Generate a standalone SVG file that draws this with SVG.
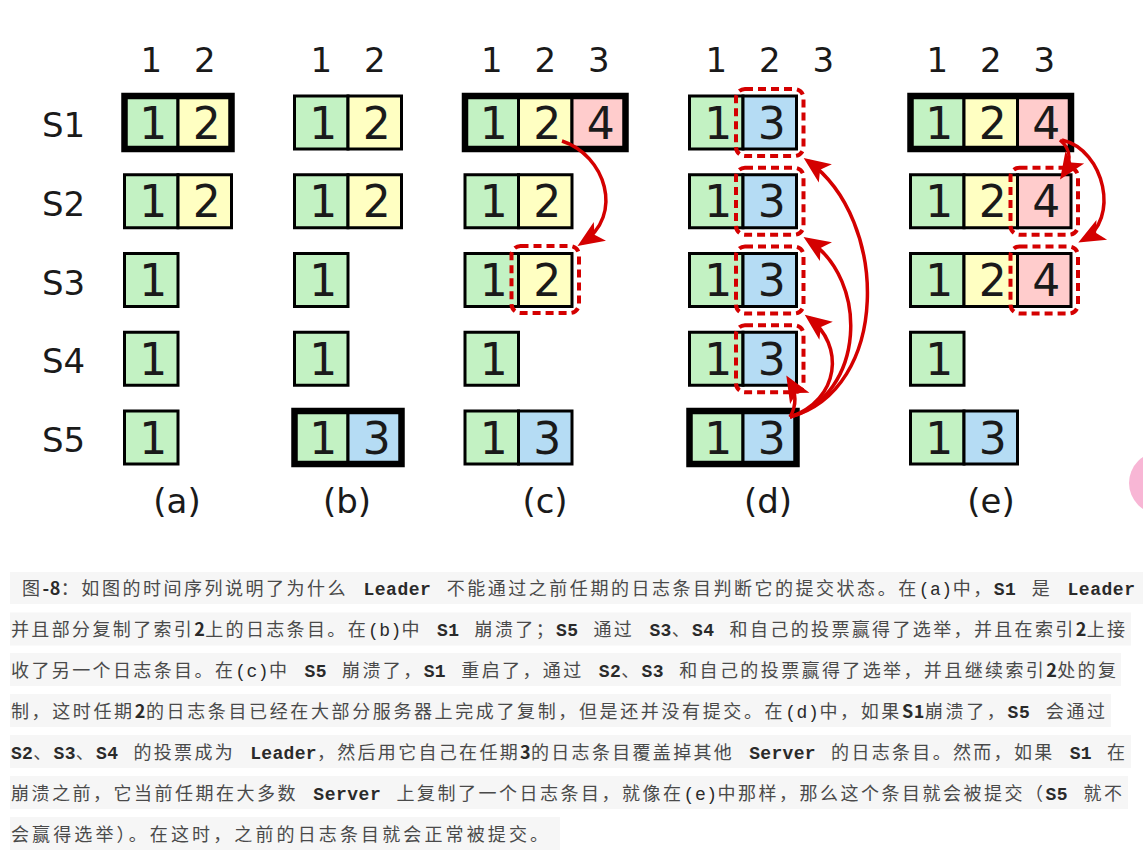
<svg xmlns="http://www.w3.org/2000/svg" width="1143" height="864" viewBox="0 0 1143 864">
<style>
.hd{font-family:"DejaVu Sans",sans-serif;font-size:34px;fill:#1a1a1a;text-anchor:middle}
.rl{font-family:"DejaVu Sans",sans-serif;font-size:34px;fill:#1a1a1a}
.cd{font-family:"DejaVu Sans",sans-serif;font-size:44px;fill:#1a1a1a;text-anchor:middle}
.cell{stroke:#000;stroke-width:3}
.t1{fill:#c3f2c3}.t2{fill:#ffffc2}.t3{fill:#b5dcf4}.t4{fill:#ffcccc}
.lead{fill:none;stroke:#000;stroke-width:6.5}
.dash{fill:none;stroke:#d40000;stroke-width:4;stroke-dasharray:8 5;}
.arr{fill:none;stroke:#d40000;stroke-width:3.5;marker-end:url(#ah)}
.band{fill:#f6f6f6}
.cap{font-family:"Noto Sans CJK SC","Noto Sans CJK JP",sans-serif;font-size:18px;fill:#4a4a4a;letter-spacing:2px;word-spacing:4px}
.m{font-family:"Liberation Mono",monospace;font-size:18px;font-weight:bold;fill:#2a2a2a;letter-spacing:0}
.r{font-weight:normal}
.b{font-weight:bold;fill:#2a2a2a;letter-spacing:0}
</style>
<defs>
<marker id="ah" markerUnits="userSpaceOnUse" markerWidth="32" markerHeight="32" viewBox="-22 -12 30 24" refX="0" refY="0" orient="auto">
<path d="M5,0 L-20,-10.5 L-14,0 L-20,10.5 Z" fill="#d40000"/>
</marker>
</defs>
<rect width="1143" height="864" fill="#ffffff"/>

<g id="row-labels">
<text class="rl" x="42" y="137">S1</text>
<text class="rl" x="42" y="215.75">S2</text>
<text class="rl" x="42" y="294.5">S3</text>
<text class="rl" x="42" y="373.25">S4</text>
<text class="rl" x="42" y="452">S5</text>
</g>

<g id="panel-a">
<text class="hd" x="151.25" y="72">1</text><text class="hd" x="204.75" y="72">2</text>
<g id="a-s1"><rect class="cell t1" x="124.5" y="96" width="53.5" height="53"/><rect class="cell t2" x="178" y="96" width="53.5" height="53"/><rect class="lead" x="124.5" y="96" width="107" height="53"/><text class="cd" x="153.25" y="138.5">1</text><text class="cd" x="206.75" y="138.5">2</text></g>
<g id="a-s2"><rect class="cell t1" x="124.5" y="174.75" width="53.5" height="53"/><rect class="cell t2" x="178" y="174.75" width="53.5" height="53"/><text class="cd" x="153.25" y="217.25">1</text><text class="cd" x="206.75" y="217.25">2</text></g>
<g id="a-s3"><rect class="cell t1" x="124.5" y="253.5" width="53.5" height="53"/><text class="cd" x="153.25" y="296">1</text></g>
<g id="a-s4"><rect class="cell t1" x="124.5" y="332.25" width="53.5" height="53"/><text class="cd" x="153.25" y="374.75">1</text></g>
<g id="a-s5"><rect class="cell t1" x="124.5" y="411" width="53.5" height="53"/><text class="cd" x="153.25" y="453.5">1</text></g>
<text class="hd" x="177" y="513">(a)</text>
</g>

<g id="panel-b">
<text class="hd" x="321.25" y="72">1</text><text class="hd" x="374.75" y="72">2</text>
<g id="b-s1"><rect class="cell t1" x="294.5" y="96" width="53.5" height="53"/><rect class="cell t2" x="348" y="96" width="53.5" height="53"/><text class="cd" x="323.25" y="138.5">1</text><text class="cd" x="376.75" y="138.5">2</text></g>
<g id="b-s2"><rect class="cell t1" x="294.5" y="174.75" width="53.5" height="53"/><rect class="cell t2" x="348" y="174.75" width="53.5" height="53"/><text class="cd" x="323.25" y="217.25">1</text><text class="cd" x="376.75" y="217.25">2</text></g>
<g id="b-s3"><rect class="cell t1" x="294.5" y="253.5" width="53.5" height="53"/><text class="cd" x="323.25" y="296">1</text></g>
<g id="b-s4"><rect class="cell t1" x="294.5" y="332.25" width="53.5" height="53"/><text class="cd" x="323.25" y="374.75">1</text></g>
<g id="b-s5"><rect class="cell t1" x="294.5" y="411" width="53.5" height="53"/><rect class="cell t3" x="348" y="411" width="53.5" height="53"/><rect class="lead" x="294.5" y="411" width="107" height="53"/><text class="cd" x="323.25" y="453.5">1</text><text class="cd" x="376.75" y="453.5">3</text></g>
<text class="hd" x="347" y="513">(b)</text>
</g>

<g id="panel-c">
<text class="hd" x="491.75" y="72">1</text><text class="hd" x="545.25" y="72">2</text><text class="hd" x="598.75" y="72">3</text>
<g id="c-s1"><rect class="cell t1" x="465" y="96" width="53.5" height="53"/><rect class="cell t2" x="518.5" y="96" width="53.5" height="53"/><rect class="cell t4" x="572" y="96" width="53.5" height="53"/><rect class="lead" x="465" y="96" width="160.5" height="53"/><text class="cd" x="493.75" y="138.5">1</text><text class="cd" x="547.25" y="138.5">2</text><text class="cd" x="600.75" y="138.5">4</text></g>
<g id="c-s2"><rect class="cell t1" x="465" y="174.75" width="53.5" height="53"/><rect class="cell t2" x="518.5" y="174.75" width="53.5" height="53"/><text class="cd" x="493.75" y="217.25">1</text><text class="cd" x="547.25" y="217.25">2</text></g>
<g id="c-s3"><rect class="cell t1" x="465" y="253.5" width="53.5" height="53"/><rect class="cell t2" x="518.5" y="253.5" width="53.5" height="53"/><text class="cd" x="493.75" y="296">1</text><text class="cd" x="547.25" y="296">2</text><rect class="dash" x="511.5" y="246" width="67.5" height="67" rx="9"/></g>
<g id="c-s4"><rect class="cell t1" x="465" y="332.25" width="53.5" height="53"/><text class="cd" x="493.75" y="374.75">1</text></g>
<g id="c-s5"><rect class="cell t1" x="465" y="411" width="53.5" height="53"/><rect class="cell t3" x="518.5" y="411" width="53.5" height="53"/><text class="cd" x="493.75" y="453.5">1</text><text class="cd" x="547.25" y="453.5">3</text></g>
<text class="hd" x="545" y="513">(c)</text>
</g>

<g id="panel-d">
<text class="hd" x="716.25" y="72">1</text><text class="hd" x="769.75" y="72">2</text><text class="hd" x="823.25" y="72">3</text>
<g id="d-s1"><rect class="cell t1" x="689.5" y="96" width="53.5" height="53"/><rect class="cell t3" x="743" y="96" width="53.5" height="53"/><text class="cd" x="718.25" y="138.5">1</text><text class="cd" x="771.75" y="138.5">3</text><rect class="dash" x="736" y="89" width="67.5" height="67" rx="9"/></g>
<g id="d-s2"><rect class="cell t1" x="689.5" y="174.75" width="53.5" height="53"/><rect class="cell t3" x="743" y="174.75" width="53.5" height="53"/><text class="cd" x="718.25" y="217.25">1</text><text class="cd" x="771.75" y="217.25">3</text><rect class="dash" x="736" y="167.75" width="67.5" height="67" rx="9"/></g>
<g id="d-s3"><rect class="cell t1" x="689.5" y="253.5" width="53.5" height="53"/><rect class="cell t3" x="743" y="253.5" width="53.5" height="53"/><text class="cd" x="718.25" y="296">1</text><text class="cd" x="771.75" y="296">3</text><rect class="dash" x="736" y="246.5" width="67.5" height="67" rx="9"/></g>
<g id="d-s4"><rect class="cell t1" x="689.5" y="332.25" width="53.5" height="53"/><rect class="cell t3" x="743" y="332.25" width="53.5" height="53"/><text class="cd" x="718.25" y="374.75">1</text><text class="cd" x="771.75" y="374.75">3</text><rect class="dash" x="736" y="325.25" width="67.5" height="67" rx="9"/></g>
<g id="d-s5"><rect class="cell t1" x="689.5" y="411" width="53.5" height="53"/><rect class="cell t3" x="743" y="411" width="53.5" height="53"/><rect class="lead" x="689.5" y="411" width="107" height="53"/><text class="cd" x="718.25" y="453.5">1</text><text class="cd" x="771.75" y="453.5">3</text></g>
<text class="hd" x="768" y="513">(d)</text>
</g>

<g id="panel-e">
<text class="hd" x="937.25" y="72">1</text><text class="hd" x="990.75" y="72">2</text><text class="hd" x="1044.25" y="72">3</text>
<g id="e-s1"><rect class="cell t1" x="910.5" y="96" width="53.5" height="53"/><rect class="cell t2" x="964" y="96" width="53.5" height="53"/><rect class="cell t4" x="1017.5" y="96" width="53.5" height="53"/><rect class="lead" x="910.5" y="96" width="160.5" height="53"/><text class="cd" x="939.25" y="138.5">1</text><text class="cd" x="992.75" y="138.5">2</text><text class="cd" x="1046.25" y="138.5">4</text></g>
<g id="e-s2"><rect class="cell t1" x="910.5" y="174.75" width="53.5" height="53"/><rect class="cell t2" x="964" y="174.75" width="53.5" height="53"/><rect class="cell t4" x="1017.5" y="174.75" width="53.5" height="53"/><text class="cd" x="939.25" y="217.25">1</text><text class="cd" x="992.75" y="217.25">2</text><text class="cd" x="1046.25" y="217.25">4</text><rect class="dash" x="1010.5" y="167.75" width="67.5" height="67" rx="9"/></g>
<g id="e-s3"><rect class="cell t1" x="910.5" y="253.5" width="53.5" height="53"/><rect class="cell t2" x="964" y="253.5" width="53.5" height="53"/><rect class="cell t4" x="1017.5" y="253.5" width="53.5" height="53"/><text class="cd" x="939.25" y="296">1</text><text class="cd" x="992.75" y="296">2</text><text class="cd" x="1046.25" y="296">4</text><rect class="dash" x="1010.5" y="246.5" width="67.5" height="67" rx="9"/></g>
<g id="e-s4"><rect class="cell t1" x="910.5" y="332.25" width="53.5" height="53"/><text class="cd" x="939.25" y="374.75">1</text></g>
<g id="e-s5"><rect class="cell t1" x="910.5" y="411" width="53.5" height="53"/><rect class="cell t3" x="964" y="411" width="53.5" height="53"/><text class="cd" x="939.25" y="453.5">1</text><text class="cd" x="992.75" y="453.5">3</text></g>
<text class="hd" x="991" y="513">(e)</text>
</g>

<g id="connectors">
<path class="arr" d="M562,141 C605,155 625,215 582,243"/>
<path class="arr" d="M790,417 C797,405 796,392 789,380"/>
<path class="arr" d="M790,417 C840,400 845,345 809,318"/>
<path class="arr" d="M790,417 C865,395 870,280 808,240"/>
<path class="arr" d="M790,417 C890,390 890,220 808,161"/>
<path class="arr" d="M1060,140 C1072,150 1071,163 1063,175"/>
<path class="arr" d="M1062,140 C1105,150 1120,220 1083,240"/>
</g>

<circle cx="1160" cy="483" r="31" fill="#f8b6d5"/>

<g id="caption">
<rect class="band" x="10" y="572" width="1133" height="32"/>
<rect class="band" x="10" y="612.5" width="1121" height="33"/>
<rect class="band" x="10" y="653" width="1111" height="33"/>
<rect class="band" x="10" y="694" width="1101" height="33"/>
<rect class="band" x="10" y="735" width="1121" height="33"/>
<rect class="band" x="10" y="776" width="1118" height="33"/>
<rect class="band" x="10" y="817" width="550" height="33"/>
<text class="cap" x="22" y="595" textLength="1113" lengthAdjust="spacing">图<tspan class="b">-8</tspan>：如图的时间序列说明了为什么<tspan class="m"> Leader </tspan>不能通过之前任期的日志条目判断它的提交状态。在<tspan class="m r">(a)</tspan>中，<tspan class="m">S1 </tspan>是<tspan class="m"> Leader</tspan></text>
<text class="cap" x="11" y="636" textLength="1116" lengthAdjust="spacing">并且部分复制了索引<tspan class="b">2</tspan>上的日志条目。在<tspan class="m r">(b)</tspan>中<tspan class="m"> S1 </tspan>崩溃了；<tspan class="m">S5 </tspan>通过<tspan class="m"> S3</tspan>、<tspan class="m">S4 </tspan>和自己的投票赢得了选举，并且在索引<tspan class="b">2</tspan>上接</text>
<text class="cap" x="11" y="677" textLength="1107" lengthAdjust="spacing">收了另一个日志条目。在<tspan class="m r">(c)</tspan>中<tspan class="m"> S5 </tspan>崩溃了，<tspan class="m">S1 </tspan>重启了，通过<tspan class="m"> S2</tspan>、<tspan class="m">S3 </tspan>和自己的投票赢得了选举，并且继续索引<tspan class="b">2</tspan>处的复</text>
<text class="cap" x="11" y="718" textLength="1096" lengthAdjust="spacing">制，这时任期<tspan class="b">2</tspan>的日志条目已经在大部分服务器上完成了复制，但是还并没有提交。在<tspan class="m r">(d)</tspan>中，如果<tspan class="b">S1</tspan>崩溃了，<tspan class="m">S5 </tspan>会通过</text>
<text class="cap" x="11" y="759" textLength="1116" lengthAdjust="spacing"><tspan class="m">S2</tspan>、<tspan class="m">S3</tspan>、<tspan class="m">S4 </tspan>的投票成为<tspan class="m"> Leader</tspan>，然后用它自己在任期<tspan class="b">3</tspan>的日志条目覆盖掉其他<tspan class="m"> Server </tspan>的日志条目。然而，如果<tspan class="m"> S1 </tspan>在</text>
<text class="cap" x="11" y="800" textLength="1113" lengthAdjust="spacing">崩溃之前，它当前任期在大多数<tspan class="m"> Server </tspan>上复制了一个日志条目，就像在<tspan class="m r">(e)</tspan>中那样，那么这个条目就会被提交（<tspan class="m">S5 </tspan>就不</text>
<text class="cap" x="11" y="841" textLength="539" lengthAdjust="spacing">会赢得选举）。在这时，之前的日志条目就会正常被提交。</text>
</g>
</svg>
